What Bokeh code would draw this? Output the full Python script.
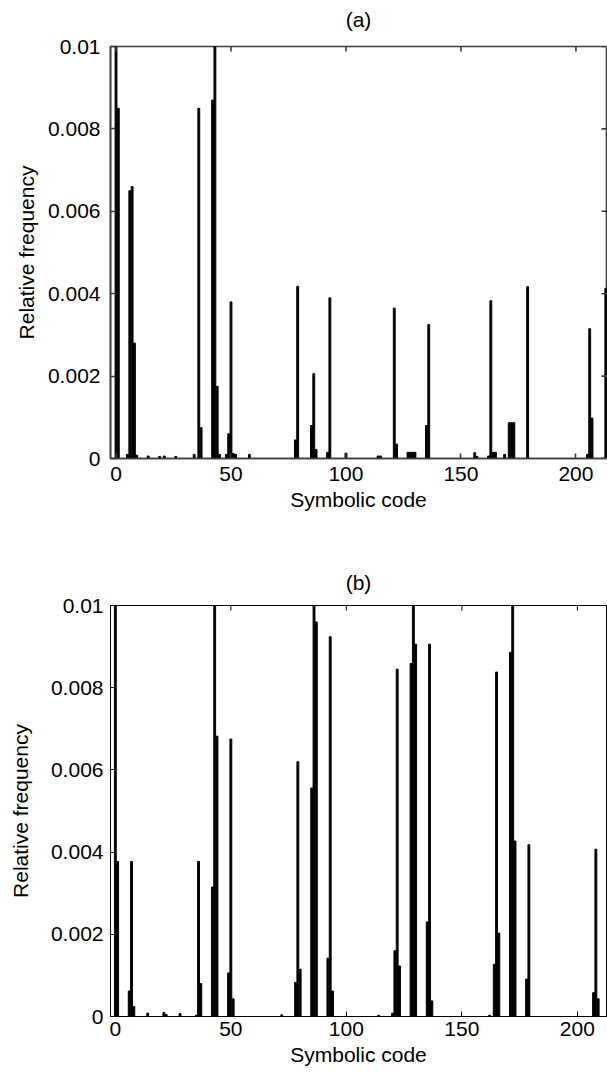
from bokeh.plotting import figure
from bokeh.models import Range1d, FixedTicker
from bokeh.layouts import column
from bokeh.embed import file_html
from bokeh.resources import INLINE

# ---------------- data ----------------
codes_a = [0, 1, 5, 6, 7, 8, 9, 14, 19, 21, 26, 34, 36, 37, 42, 43, 44, 45, 48, 49,
           50, 51, 52, 58, 78, 79, 85, 86, 87, 92, 93, 100, 114, 115, 121, 122, 127,
           128, 129, 130, 135, 136, 156, 157, 162, 163, 164, 165, 169, 171, 172, 173,
           179, 205, 206, 207, 213]
freq_a = [0.0105, 0.0085, 0.0001, 0.0065, 0.0066, 0.0028, 0.00008, 0.00006, 0.00005,
          0.00006, 0.00005, 0.0001, 0.0085, 0.00075, 0.0087, 0.0105, 0.00175, 0.0001,
          0.0001, 0.0006, 0.0038, 0.00012, 0.0001, 0.0001, 0.00045, 0.00418, 0.0008,
          0.00206, 0.00022, 0.00015, 0.0039, 0.00013, 0.00006, 0.00006, 0.00365,
          0.00035, 0.00015, 0.00015, 0.00015, 0.00015, 0.0008, 0.00325, 0.00014,
          0.00005, 0.00006, 0.00383, 0.00015, 0.00015, 0.0001, 0.00087, 0.00087,
          0.00087, 0.00417, 0.0001, 0.00315, 0.00098, 0.00413]

codes_b = [0, 1, 6, 7, 8, 14, 21, 22, 28, 35, 36, 37, 42, 43, 44, 49, 50, 51, 72, 78,
           79, 80, 85, 86, 87, 92, 93, 94, 114, 120, 121, 122, 123, 128, 129, 130, 135,
           136, 137, 162, 164, 165, 166, 171, 172, 173, 178, 179, 207, 208, 209]
freq_b = [0.0105, 0.00377, 0.00062, 0.00377, 0.00024, 0.00008, 0.0001, 0.00005,
          0.00007, 0.00003, 0.00377, 0.0008, 0.00315, 0.0105, 0.00682, 0.00106,
          0.00675, 0.00043, 0.00004, 0.00083, 0.0062, 0.00115, 0.00556, 0.0105, 0.0096,
          0.00142, 0.00924, 0.00062, 0.00003, 0.00008, 0.0016, 0.00845, 0.00123,
          0.00859, 0.0105, 0.00906, 0.0023, 0.00906, 0.00038, 0.00003, 0.00127,
          0.00838, 0.00203, 0.00886, 0.0105, 0.00427, 0.00091, 0.00418, 0.00058,
          0.00407, 0.00043]

x_ticks = [0, 50, 100, 150, 200]
y_ticks = [0, 0.002, 0.004, 0.006, 0.008, 0.01]
y_tick_labels = ["0", "0.002", "0.004", "0.006", "0.008", "0.01"]
x_label = "Symbolic code"
y_label = "Relative frequency"
panel_titles = ["(a)", "(b)"]

FONT = "Liberation Sans"
FS = "21px"
TICK_PX = 5


def style_axis(ax, color, lw):
    ax.axis_line_color = color
    ax.axis_line_width = lw
    ax.major_tick_line_color = color
    ax.major_tick_line_width = lw
    ax.major_tick_in = TICK_PX
    ax.major_tick_out = 0
    ax.minor_tick_line_color = None
    ax.major_label_text_font = FONT
    ax.major_label_text_font_size = FS
    ax.major_label_text_color = "black"
    ax.axis_label_text_font = FONT
    ax.axis_label_text_font_style = "normal"
    ax.axis_label_text_font_size = FS
    ax.axis_label_text_color = "black"


def make_panel(title, codes, freqs, width, height, xr, mb, color, lw,
               right_ticks, ystand, ylab_stand, xstand, xlab_stand, title_lift):
    p = figure(width=width, height=height, x_range=Range1d(*xr),
               y_range=Range1d(0, 0.01), output_backend="svg",
               toolbar_location=None, min_border_left=mb[0],
               min_border_right=mb[1], min_border_top=mb[2],
               min_border_bottom=mb[3])
    p.outline_line_color = color
    p.outline_line_width = lw
    p.xgrid.visible = False
    p.ygrid.visible = False
    p.background_fill_color = "white"
    p.border_fill_color = "white"

    p.vbar(x=codes, top=freqs, width=0.8, bottom=0,
           fill_color="black", line_color="black", line_width=1.0)

    # inward ticks on the top (and right) edges of the box
    frame_w = width - mb[0] - mb[1]
    frame_h = height - mb[2] - mb[3]
    dy = 0.01 * TICK_PX / frame_h
    dx = (xr[1] - xr[0]) * TICK_PX / frame_w
    p.segment(x0=x_ticks, y0=[0.01] * len(x_ticks), x1=x_ticks,
              y1=[0.01 - dy] * len(x_ticks), line_color=color, line_width=lw)
    if right_ticks:
        p.segment(x0=[xr[1]] * len(y_ticks), y0=y_ticks,
                  x1=[xr[1] - dx] * len(y_ticks), y1=y_ticks,
                  line_color=color, line_width=lw)

    p.title.text = title
    p.title.align = "center"
    p.title.text_font = FONT
    p.title.text_font_size = FS
    p.title.text_font_style = "normal"
    p.title.text_color = "black"
    try:
        p.title.padding = dict(left=0, right=0, top=0, bottom=title_lift)
    except Exception:
        p.title.standoff = 10 + title_lift

    xa = p.xaxis[0]
    xa.ticker = FixedTicker(ticks=x_ticks)
    style_axis(xa, color, lw)
    xa.axis_label = x_label
    xa.major_label_standoff = xstand
    xa.axis_label_standoff = xlab_stand

    ya = p.yaxis[0]
    ya.ticker = FixedTicker(ticks=y_ticks)
    ya.major_label_overrides = {t: s for t, s in zip(y_ticks, y_tick_labels)}
    style_axis(ya, color, lw)
    ya.axis_label = y_label
    ya.major_label_standoff = ystand
    ya.axis_label_standoff = ylab_stand
    return p


pa = make_panel(panel_titles[0], codes_a, freq_a, 607, 519, (-2.4, 213.3),
                (110, 1, 45, 61), "#3c3c3c", 1.6, True, 10, 7, 8, 4, 11)
pb = make_panel(panel_titles[1], codes_b, freq_b, 607, 554, (-2.1, 212.6),
                (107, 0, 86, 57), "black", 1, False, 7, 16, 5, 4, 7)

layout = column(pa, pb, spacing=0)
open("out.html", "w").write(file_html(layout, INLINE))
